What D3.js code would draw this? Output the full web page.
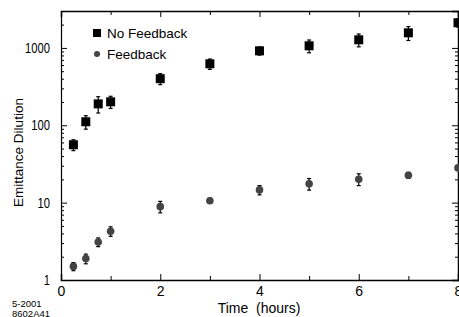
<!DOCTYPE html>
<html>
<head>
<meta charset="utf-8">
<script src="https://cdn.jsdelivr.net/npm/d3@7"></script>
<style>
  body { margin: 0; background: #fff; }
  text { font-family: "Liberation Sans", Arial, sans-serif; }
</style>
</head>
<body>
<div id="graph"></div>
<script>
// data
var hours = [0.25, 0.5, 0.75, 1, 2, 3, 4, 5, 6, 7, 8];
var noFeedback = [56, 111, 189, 201, 400, 623, 917, 1065, 1273, 1567, 2113];
var noFeedbackErr = [9, 22, 45, 36, 65, 95, 110, 200, 240, 320, 250];
var feedback = [1.5, 1.89, 3.1, 4.27, 8.88, 10.6, 14.6, 17.5, 20.1, 22.6, 28.1];
var feedbackErr = [0.18, 0.27, 0.4, 0.6, 1.5, 0.8, 2, 3, 3.5, 2, 2];
var xTicks = [0, 2, 4, 6, 8];
var xMinorTicks = [1, 3, 5, 7];
var yTicks = [1, 10, 100, 1000];

var margin = {top: 11, right: 1, bottom: 37, left: 61},
    width = 459 - margin.left - margin.right,
    height = 317 - margin.top - margin.bottom;

var svg = d3.select("#graph")
  .append("svg")
    .attr("width", 459)
    .attr("height", 317)
  .append("g")
    .attr("transform", "translate(" + margin.left + "," + margin.top + ")");

var x = d3.scaleLinear().domain([0, 8]).range([0, width]);
var y = d3.scaleLog().domain([1, 3000]).range([height, 0]);

// minor log ticks
var yMinor = [];
for (var d = 1; d <= 1000; d *= 10) {
  for (var k = 2; k <= 9; k++) {
    if (d * k <= 3000) yMinor.push(d * k);
  }
}

// bottom axis
var xAxisG = svg.append("g")
  .attr("transform", "translate(0," + height + ")")
  .call(d3.axisBottom(x).tickValues(xTicks).tickSize(-6).tickPadding(6).tickFormat(d3.format("d")))
  .call(function(g) { g.select(".domain").attr("stroke-width", 1.5); });
xAxisG.selectAll(".tick text").attr("font-size", 14).attr("fill", "#000");
svg.append("g")
  .attr("transform", "translate(0," + height + ")")
  .call(d3.axisBottom(x).tickValues(xMinorTicks).tickSize(-4).tickFormat(""))
  .call(function(g) { g.select(".domain").remove(); });

// top axis
svg.append("g")
  .call(d3.axisTop(x).tickValues(xTicks).tickSize(-6).tickFormat(""))
  .call(function(g) { g.select(".domain").attr("stroke-width", 1.5); });
svg.append("g")
  .call(d3.axisTop(x).tickValues(xMinorTicks).tickSize(-4).tickFormat(""))
  .call(function(g) { g.select(".domain").remove(); });

// left axis
var yAxisG = svg.append("g")
  .call(d3.axisLeft(y).tickValues(yTicks).tickSize(-6).tickPadding(11).tickFormat(d3.format("d")))
  .call(function(g) { g.select(".domain").attr("stroke-width", 1.2); });
yAxisG.selectAll(".tick text")
  .attr("font-size", 14)
  .attr("fill", "#000")
  .each(function() {
    var w = this.getComputedTextLength();
    d3.select(this).attr("textLength", w * 0.8).attr("lengthAdjust", "spacingAndGlyphs");
  });
svg.append("g")
  .call(d3.axisLeft(y).tickValues(yMinor).tickSize(-3).tickFormat(""))
  .call(function(g) { g.select(".domain").remove(); });

// right axis
svg.append("g")
  .attr("transform", "translate(" + width + ",0)")
  .call(d3.axisRight(y).tickValues(yTicks).tickSize(-6).tickFormat(""))
  .call(function(g) { g.select(".domain").attr("stroke-width", 1.5); });
svg.append("g")
  .attr("transform", "translate(" + width + ",0)")
  .call(d3.axisRight(y).tickValues(yMinor).tickSize(-3).tickFormat(""))
  .call(function(g) { g.select(".domain").remove(); });

// error bars
function errorBars(vals, errs, color) {
  var g = svg.append("g").attr("stroke", color).attr("stroke-width", 1.2);
  hours.forEach(function(h, i) {
    var lo = y(vals[i] - errs[i]), hi = y(vals[i] + errs[i]);
    g.append("line").attr("x1", x(h)).attr("x2", x(h)).attr("y1", lo).attr("y2", hi);
    g.append("line").attr("x1", x(h) - 2).attr("x2", x(h) + 2).attr("y1", lo).attr("y2", lo);
    g.append("line").attr("x1", x(h) - 2).attr("x2", x(h) + 2).attr("y1", hi).attr("y2", hi);
  });
}
errorBars(noFeedback, noFeedbackErr, "#000");
errorBars(feedback, feedbackErr, "#000");

// No Feedback squares
svg.selectAll(".sq")
  .data(hours)
  .enter().append("rect")
    .attr("x", function(d) { return x(d) - 4.5; })
    .attr("y", function(d, i) { return y(noFeedback[i]) - 4.5; })
    .attr("width", 9)
    .attr("height", 9)
    .attr("fill", "#000");

// Feedback circles
svg.selectAll(".dot")
  .data(hours)
  .enter().append("circle")
    .attr("cx", function(d) { return x(d); })
    .attr("cy", function(d, i) { return y(feedback[i]); })
    .attr("r", 3.8)
    .attr("fill", "#444");

// legend
svg.append("rect").attr("x", 32).attr("y", 18).attr("width", 8).attr("height", 8).attr("fill", "#000");
svg.append("text").attr("x", 46).attr("y", 27).attr("font-size", 13.5).text("No Feedback");
svg.append("circle").attr("cx", 36).attr("cy", 43).attr("r", 3).attr("fill", "#444");
svg.append("text").attr("x", 46).attr("y", 48).attr("font-size", 13.5).text("Feedback");

// axis labels
svg.append("text")
  .attr("text-anchor", "middle")
  .attr("x", 259 - margin.left)
  .attr("y", 313 - margin.top)
  .attr("font-size", 14)
  .style("white-space", "pre")
  .text("Time  (hours)");

svg.append("text")
  .attr("text-anchor", "middle")
  .attr("transform", "translate(" + (22.5 - margin.left) + "," + (152.5 - margin.top) + ") rotate(-90)")
  .attr("font-size", 13.5)
  .text("Emittance Dilution");

// figure code
svg.append("text").attr("x", 12 - margin.left).attr("y", 306.5 - margin.top).attr("font-size", 9.5).text("5-2001");
svg.append("text").attr("x", 12 - margin.left).attr("y", 316.5 - margin.top).attr("font-size", 9.5).text("8602A41");
</script>
</body>
</html>
